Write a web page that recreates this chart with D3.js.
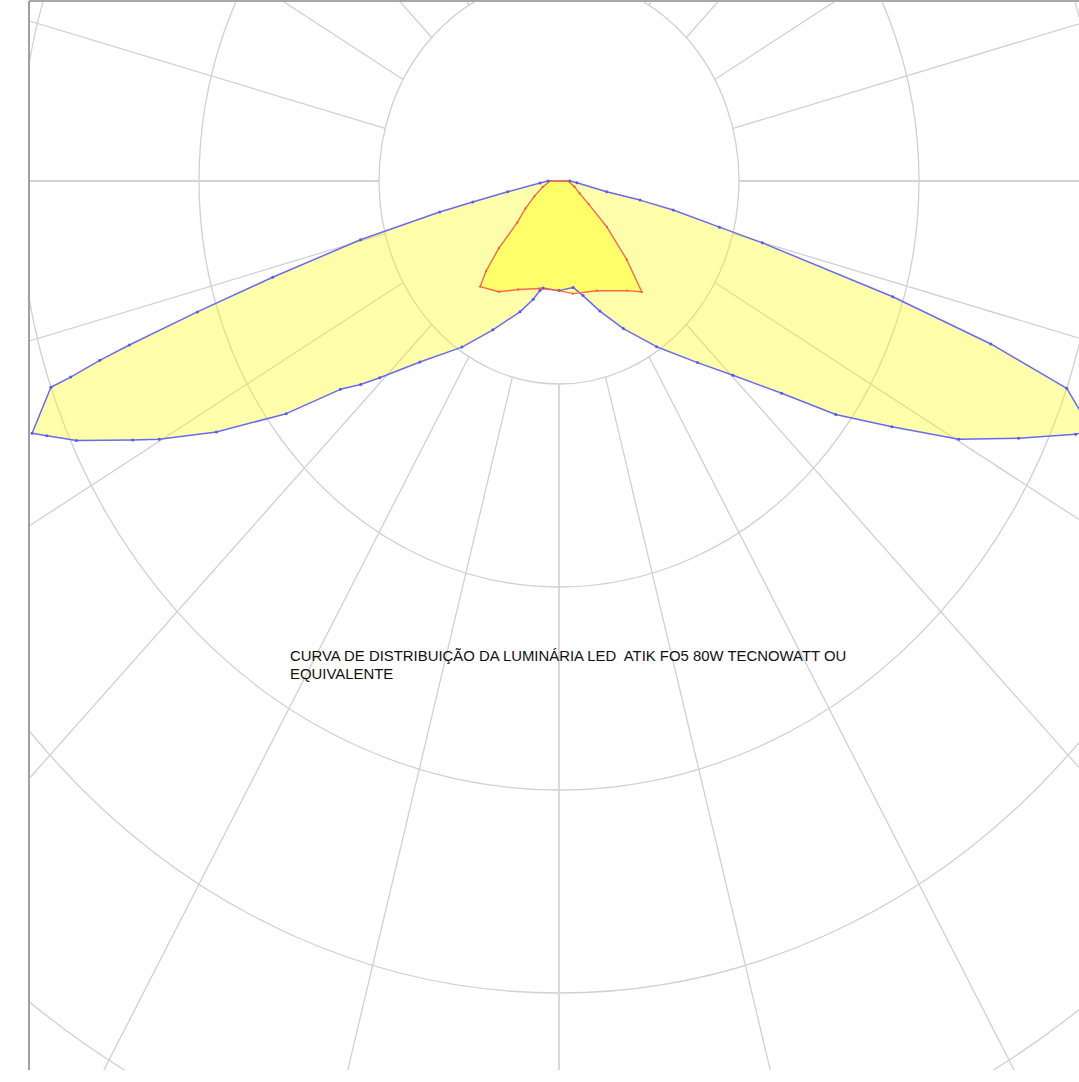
<!DOCTYPE html>
<html>
<head>
<meta charset="utf-8">
<script src="https://cdn.jsdelivr.net/npm/d3@7"></script>
<style>
  html, body { margin: 0; padding: 0; background: #ffffff; }
  svg { display: block; }
  .caption { white-space: pre; }
</style>
</head>
<body>
<svg id="chart" width="1079" height="1082"></svg>
<script>
// Polar luminous intensity diagram (cd/klm), gamma measured from nadir.
const ringValues = [100, 200, 300, 400, 500, 600];
const spokeAngles = [0, 15, 30, 45, 60, 75, 90, 105, 120, 135, 150, 165,
                     180, 195, 210, 225, 240, 255, 270, 285, 300, 315, 330, 345];

// C0 - C180 plane (blue)
const c180Gamma = [0, 9.6, 11.1, 13.8, 18.6, 26.6, 33.4, 40.9, 45.8, 47.7, 49.8, 52.9, 57.0, 60.2, 61.7, 64.5, 66.2, 67.0, 70.2, 70.4, 70.9, 71.3, 72.2, 73.4, 75.3, 77.0, 77.8, 79.4, 84.7, 90];
const c180Value = [54, 53.5, 55, 60, 68, 82, 98, 118, 139, 149, 159, 190, 227, 256, 269, 297, 311, 318, 300, 288, 270, 252, 211, 166, 114, 68, 49, 29, 10.6, 6];
const c0Gamma = [0, 8.5, 13.3, 19.5, 26.2, 33.6, 40.7, 45.3, 49.8, 53.2, 56.8, 60.2, 63.6, 66.5, 67.5, 70.1, 71.5, 72.9, 74.9, 75.7, 77.3, 78.2, 78.6, 85, 90];
const c0Value = [54, 53, 58, 68, 81, 98, 118, 136, 162, 192, 221, 256, 285, 313, 320, 300, 253, 194, 117, 92, 65, 46, 27, 10, 6];

// C90 - C270 plane (red)
const c270Gamma = [0, 11.4, 22.9, 31.5, 40.1, 42.4, 45.3, 48.5, 54.0, 61.3, 72.0, 90];
const c270Value = [54, 54, 58, 64, 68, 60, 47, 31, 23, 15.5, 9.5, 5];
const c90Gamma = [0, 8, 21.3, 35.1, 40.1, 44.2, 49.6, 55.3, 62.0, 72.0, 90];
const c90Value = [54, 56, 58, 66, 71.5, 54, 35, 20, 13, 9, 5];

const titleLines = [
  "CURVA DE DISTRIBUIÇÃO DA LUMINÁRIA LED  ATIK FO5 80W TECNOWATT OU",
  "EQUIVALENTE"
];

const svg = d3.select("#chart");
const frame = { left: 29, top: 1, right: 1079, bottom: 1070 };
const cx = 559, cy = 181;

// the diagram is drawn with a slightly taller vertical unit than horizontal
const rx = d3.scaleLinear().domain([0, 100]).range([0, 180]);
const ry = d3.scaleLinear().domain([0, 100]).range([0, 203]);

const toXY = (deg, v) => {
  const a = deg * Math.PI / 180;
  return [cx + rx(v) * Math.sin(a), cy + ry(v) * Math.cos(a)];
};

svg.append("defs").append("clipPath").attr("id", "frameClip")
  .append("rect")
  .attr("x", frame.left).attr("y", frame.top)
  .attr("width", frame.right - frame.left).attr("height", frame.bottom - frame.top);

const plot = svg.append("g").attr("clip-path", "url(#frameClip)");

// grid rings
const gridColor = "#d0d0d5";
plot.append("g").selectAll("ellipse").data(ringValues).join("ellipse")
  .attr("cx", cx).attr("cy", cy)
  .attr("rx", d => rx(d)).attr("ry", d => ry(d))
  .attr("fill", "none").attr("stroke", gridColor).attr("stroke-width", 1.3);

// spokes, from the first ring outwards
const rMin = ringValues[0], rMax = ringValues[ringValues.length - 1];
plot.append("g").selectAll("line").data(spokeAngles).join("line")
  .attr("x1", d => toXY(d, rMin)[0]).attr("y1", d => toXY(d, rMin)[1])
  .attr("x2", d => toXY(d, rMax)[0]).attr("y2", d => toXY(d, rMax)[1])
  .attr("stroke", d => (d % 90 === 0) ? "#d8d2d6" : gridColor)
  .attr("stroke-width", d => (d % 90 === 0) ? 1.8 : 1.3);

// closed curve: left half (negative gamma) then right half, through the centre
function curvePoints(leftG, leftV, rightG, rightV) {
  const pts = [];
  pts.push({ g: 180, v: 0 });
  for (let i = leftG.length - 1; i >= 0; i--) pts.push({ g: -leftG[i], v: leftV[i] });
  for (let i = 0; i < rightG.length; i++) pts.push({ g: rightG[i], v: rightV[i] });
  return pts;
}

const bluePts = curvePoints(c180Gamma, c180Value, c0Gamma, c0Value);
const redPts = curvePoints(c270Gamma, c270Value, c90Gamma, c90Value);

const line = d3.line()
  .x(d => toXY(d.g, d.v)[0])
  .y(d => toXY(d.g, d.v)[1])
  .curve(d3.curveLinearClosed);

const fillColor = "#ffff00";

plot.append("path").datum(bluePts)
  .attr("d", line)
  .attr("fill", fillColor).attr("fill-opacity", 0.33)
  .attr("stroke", "none");

plot.append("path").datum(redPts)
  .attr("d", line)
  .attr("fill", fillColor).attr("fill-opacity", 0.38)
  .attr("stroke", "none");

plot.append("path").datum(bluePts)
  .attr("d", line)
  .attr("fill", "none").attr("stroke", "#6a6af0").attr("stroke-width", 1.5)
  .attr("stroke-linejoin", "round");

plot.append("path").datum(redPts)
  .attr("d", line)
  .attr("fill", "none").attr("stroke", "#f86a50").attr("stroke-width", 1.4)
  .attr("stroke-linejoin", "round");

plot.append("g").selectAll("circle").data(bluePts.filter(d => d.g !== 180)).join("circle")
  .attr("cx", d => toXY(d.g, d.v)[0]).attr("cy", d => toXY(d.g, d.v)[1])
  .attr("r", 1.5).attr("fill", "#5a5ae8");

plot.append("g").selectAll("circle").data(redPts.filter(d => d.g !== 180)).join("circle")
  .attr("cx", d => toXY(d.g, d.v)[0]).attr("cy", d => toXY(d.g, d.v)[1])
  .attr("r", 1.1).attr("fill", "#f05a40");

// frame (top and left edges)
svg.append("line")
  .attr("x1", frame.left).attr("y1", frame.top).attr("x2", frame.right).attr("y2", frame.top)
  .attr("stroke", "#a8a8a8").attr("stroke-width", 2);
svg.append("line")
  .attr("x1", frame.left).attr("y1", frame.top).attr("x2", frame.left).attr("y2", frame.bottom)
  .attr("stroke", "#a0a0a0").attr("stroke-width", 2);

// caption
const caption = svg.append("text")
  .attr("class", "caption")
  .attr("x", 290).attr("y", 661)
  .attr("font-family", "'Liberation Sans', Arial, sans-serif")
  .attr("font-size", 14.9)
  .attr("fill", "#111");
caption.selectAll("tspan").data(titleLines).join("tspan")
  .attr("x", 290)
  .attr("dy", (d, i) => i === 0 ? 0 : 18)
  .text(d => d);
</script>
</body>
</html>
